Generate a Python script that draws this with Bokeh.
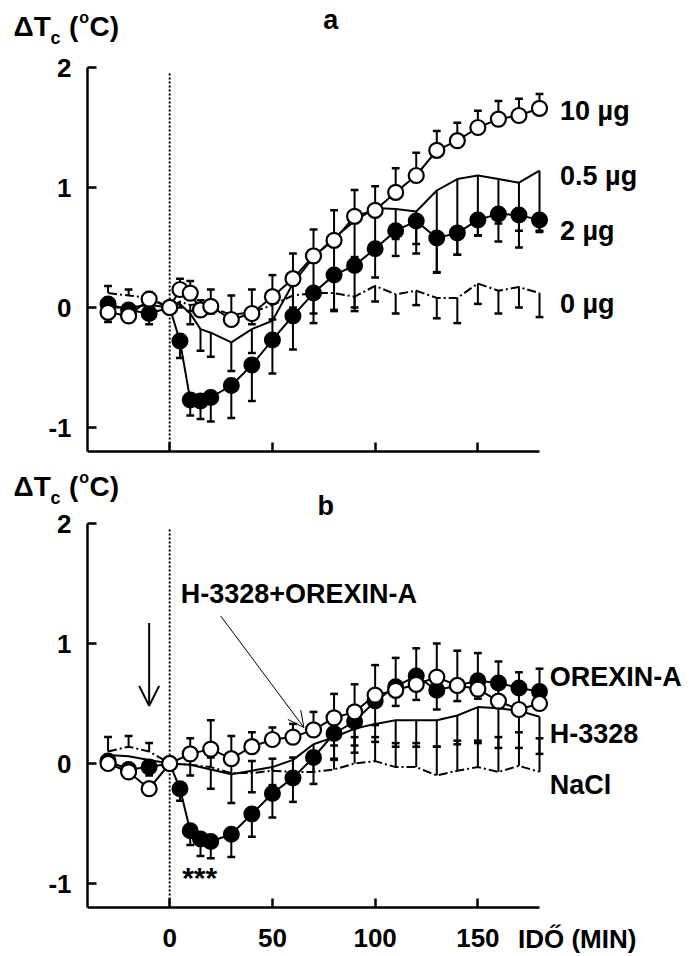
from bokeh.plotting import figure
from bokeh.layouts import column
from bokeh.models import Label, Arrow, OpenHead, FixedTicker, Range1d
from bokeh.embed import file_html
from bokeh.resources import INLINE

FONT = "Liberation Sans"

# ---------------- data ----------------
t_full = [-30, -20, -10, 0, 5, 10, 15, 20, 30, 40, 50, 60, 70, 80, 90, 100,
          110, 120, 130, 140, 150, 160, 170, 180]
t_10 = [-30, -20, -10, 0, 10, 20, 30, 40, 50, 60, 70, 80, 90, 100,
        110, 120, 130, 140, 150, 160, 170, 180]

x_ticks = [0, 50, 100, 150]
x_tick_labels = ["0", "50", "100", "150"]
y_ticks = [-1, 0, 1, 2]
y_tick_labels = ["-1", "0", "1", "2"]

# panel a (t_full)
a_10ug = [-0.04, -0.07, 0.07, 0.0, 0.15, 0.12, -0.02, 0.01, -0.10, -0.05, 0.09, 0.24,
          0.43, 0.56, 0.76, 0.81, 0.96, 1.10, 1.31, 1.39, 1.50, 1.57, 1.60, 1.66]
a_10ug_up = [0.0, 0.0, 0.05, 0.0, 0.09, 0.10, 0.08, 0.14, 0.20, 0.20, 0.18, 0.21,
             0.22, 0.25, 0.22, 0.20, 0.20, 0.19, 0.16, 0.15, 0.14, 0.15, 0.14, 0.12]
a_2ug = [0.03, -0.02, -0.05, 0.0, -0.28, -0.77, -0.78, -0.75, -0.65, -0.48, -0.27, -0.07,
         0.12, 0.27, 0.35, 0.49, 0.64, 0.72, 0.58, 0.62, 0.73, 0.78, 0.77, 0.73]
a_2ug_dn = [0.15, 0.05, 0.09, 0.0, 0.14, 0.13, 0.15, 0.20, 0.27, 0.30, 0.28, 0.28,
            0.25, 0.30, 0.35, 0.24, 0.21, 0.19, 0.29, 0.18, 0.13, 0.08, 0.13, 0.10]
a_05ug = [0.0, 0.0, 0.02, 0.0, 0.03, -0.05, -0.18, -0.21, -0.29, -0.18, -0.11, 0.20,
          0.42, 0.58, 0.72, 0.83, 0.82, 0.80, 0.975, 1.07, 1.10, 1.07, 1.04, 1.14]
a_05ug_dn = [0.0, 0.0, 0.0, 0.0, 0.0, 0.09, 0.18, 0.20, 0.24, 0.20, 0.15, 0.20,
             0.25, 0.30, 0.30, 0.35, 0.25, 0.35, 0.68, 0.63, 0.50, 0.52, 0.54, 0.50]
a_0ug = [0.12, 0.10, 0.08, 0.0, 0.05, 0.02, 0.03, 0.0, -0.06, -0.04, 0.02, 0.10,
         0.12, 0.12, 0.09, 0.18, 0.11, 0.14, 0.08, 0.08, 0.20, 0.14, 0.17, 0.12]
a_0ug_up = [0.06, 0.05, 0.05, 0.0, 0.0, 0.0, 0.0, 0.0, 0.0, 0.0, 0.0, 0.0,
            0.0, 0.0, 0.0, 0.0, 0.0, 0.0, 0.0, 0.0, 0.0, 0.0, 0.0, 0.0]
a_0ug_dn = [0.0, 0.0, 0.0, 0.0, 0.05, 0.05, 0.05, 0.05, 0.08, 0.10, 0.12, 0.15,
            0.17, 0.14, 0.12, 0.13, 0.16, 0.12, 0.17, 0.21, 0.17, 0.19, 0.17, 0.20]

# panel b
b_orx = [0.02, -0.05, -0.03, 0.0, -0.21, -0.56, -0.63, -0.65, -0.59, -0.42, -0.25, -0.12,
         0.05, 0.25, 0.35, 0.52, 0.64, 0.73, 0.61, 0.65, 0.69, 0.67, 0.63, 0.60]   # t_full
b_orx_dn = [0.0, 0.0, 0.07, 0.0, 0.10, 0.12, 0.14, 0.14, 0.19, 0.19, 0.20, 0.20,
            0.22, 0.22, 0.20, 0.20, 0.16, 0.20, 0.16, 0.13, 0.15, 0.15, 0.15, 0.15]
b_hox = [0.0, -0.07, -0.21, 0.0, 0.08, 0.12, 0.04, 0.14, 0.20, 0.22, 0.28, 0.38,
         0.43, 0.57, 0.61, 0.66, 0.72, 0.65, 0.62, 0.52, 0.45, 0.50]            # t_10
b_hox_up = [0.0, 0.0, 0.0, 0.0, 0.13, 0.24, 0.19, 0.12, 0.10, 0.11, 0.15, 0.20,
            0.23, 0.25, 0.27, 0.30, 0.28, 0.29, 0.30, 0.33, 0.31, 0.29]
b_h3328 = [0.07, 0.06, 0.03, 0.0, -0.01, -0.05, -0.09, -0.06, -0.03, 0.03, 0.16, 0.22,
           0.29, 0.33, 0.36, 0.36, 0.36, 0.40, 0.47, 0.46, 0.44, 0.39]           # t_10
b_h3328_dn = [0.0, 0.0, 0.0, 0.0, 0.09, 0.16, 0.24, 0.18, 0.15, 0.15, 0.15, 0.18,
              0.20, 0.15, 0.22, 0.22, 0.22, 0.24, 0.30, 0.33, 0.31, 0.31]
b_nacl = [0.10, 0.14, 0.10, 0.0, -0.01, -0.03, -0.08, -0.08, -0.06, -0.07, -0.07, -0.05,
          0.0, 0.02, -0.03, -0.03, -0.10, -0.06, -0.03, -0.07, -0.02, -0.07]     # t_10
b_nacl_up = [0.12, 0.09, 0.07, 0.0, 0.05, 0.08, 0.10, 0.10, 0.10, 0.12, 0.15, 0.20,
             0.22, 0.20, 0.20, 0.20, 0.24, 0.25, 0.22, 0.29, 0.28, 0.28]

X0, X1 = -40, 180      # axis extent (min)
Y0, Y1 = -1.2, 2.0     # axis extent (deg C)
W = 695


# ---------------- helpers ----------------
def make_fig(h, ytop, ybot, show_xlabels):
    p = figure(width=W, height=h,
               x_range=Range1d(-82.35, 255.93), y_range=Range1d(ybot, ytop),
               output_backend="svg", toolbar_location=None,
               min_border=0, min_border_left=0, min_border_right=0,
               min_border_top=0, min_border_bottom=0)
    p.outline_line_color = None
    p.grid.visible = False
    p.background_fill_color = "white"
    p.border_fill_color = "white"
    p.xaxis.ticker = FixedTicker(ticks=x_ticks)
    p.yaxis.ticker = FixedTicker(ticks=y_ticks)
    p.xaxis.fixed_location = Y0
    p.yaxis.fixed_location = X0
    p.xaxis.bounds = (X0, X1)
    p.yaxis.bounds = (Y0, Y1)
    for ax in (p.xaxis[0], p.yaxis[0]):
        ax.axis_line_width = 2.5
        ax.axis_line_color = "black"
        ax.major_tick_line_width = 2.5
        ax.major_tick_line_color = "black"
        ax.major_tick_in = 9
        ax.major_tick_out = 0
        ax.minor_tick_line_color = None
        ax.major_label_text_font = FONT
        ax.major_label_text_font_style = "bold"
        ax.major_label_text_font_size = "26px"
        ax.major_label_text_color = "black"
    p.yaxis.major_label_standoff = 16
    p.yaxis.major_label_overrides = {t: s for t, s in zip(y_ticks, y_tick_labels)}
    if show_xlabels:
        p.xaxis.major_label_standoff = 21
        p.xaxis.major_label_overrides = {t: s for t, s in zip(x_ticks, x_tick_labels)}
    else:
        p.xaxis.major_label_overrides = {t: "" for t in x_ticks}
        p.xaxis.major_label_standoff = 0
    # dotted injection line at t = 0
    p.segment(x0=[0], y0=[Y0], x1=[0], y1=[1.95], line_color="black",
              line_width=2, line_dash="2 2")
    return p


def err(p, t, v, e, sign, cap=True):
    xs, y0, y1 = [], [], []
    for ti, vi, ei in zip(t, v, e):
        if ei > 0:
            xs.append(ti)
            y0.append(vi)
            y1.append(vi + sign * ei)
    p.segment(x0=xs, y0=y0, x1=xs, y1=y1, line_color="black", line_width=2)
    if cap:
        p.segment(x0=[x - 1.9 for x in xs], x1=[x + 1.9 for x in xs], y0=y1, y1=y1,
                  line_color="black", line_width=2.5)


def lab(p, x, y, text, size="27px", align="left", baseline="middle"):
    p.add_layout(Label(x=x, y=y, text=text, text_font=FONT, text_font_style="bold",
                       text_font_size=size, text_align=align, text_baseline=baseline,
                       text_color="black"))


def ylabel(p, yc, ysub, ysup):
    lab(p, -76.0, yc, "ΔT", size="28px")
    lab(p, -58.0, ysub, "c", size="18px")
    lab(p, -49.0, yc, "(", size="28px")
    lab(p, -44.0, ysup, "o", size="16px")
    lab(p, -39.0, yc, "C)", size="28px")


# ---------------- panel a ----------------
pa = make_fig(465, 2 + 67 / 120, -1.2 - 14 / 120, False)
err(pa, t_full, a_0ug, a_0ug_dn, -1)
err(pa, t_full, a_0ug, a_0ug_up, +1)
err(pa, t_full, a_05ug, a_05ug_dn, -1)
err(pa, t_full, a_2ug, a_2ug_dn, -1)
err(pa, t_full, a_10ug, a_10ug_up, +1)
pa.line(t_full, a_0ug, line_color="black", line_width=2, line_dash="9 3 2 3")
pa.line(t_full, a_05ug, line_color="black", line_width=2)
pa.line(t_full, a_2ug, line_color="black", line_width=2)
pa.line(t_full, a_10ug, line_color="black", line_width=2)
pa.scatter(t_full, a_2ug, size=15, marker="circle", fill_color="black",
           line_color="black", line_width=2)
pa.scatter(t_full, a_10ug, size=15, marker="circle", fill_color="white",
           line_color="black", line_width=2.2)
lab(pa, 190, 1.64, "10 µg")
lab(pa, 190, 1.10, "0.5 µg")
lab(pa, 190, 0.64, "2 µg")
lab(pa, 190, 0.03, "0 µg")
lab(pa, 78.4, 2.40, "a", size="27px", align="center")
ylabel(pa, 2.34, 2.25, 2.42)

# ---------------- panel b ----------------
pb = make_fig(491, 2 + 58 / 120, -1.2 - 49 / 120, True)
err(pb, t_10, b_nacl, b_nacl_up, +1)
err(pb, t_10, b_h3328, b_h3328_dn, -1)
err(pb, t_full, b_orx, b_orx_dn, -1)
err(pb, t_10, b_hox, b_hox_up, +1)
pb.line(t_10, b_nacl, line_color="black", line_width=2, line_dash="9 3 2 3")
pb.line(t_10, b_h3328, line_color="black", line_width=2)
pb.line(t_full, b_orx, line_color="black", line_width=2)
pb.line(t_10, b_hox, line_color="black", line_width=2)
pb.scatter(t_full, b_orx, size=15, marker="circle", fill_color="black",
           line_color="black", line_width=2)
pb.scatter(t_10, b_hox, size=15, marker="circle", fill_color="white",
           line_color="black", line_width=2.2)
lab(pb, 185, 0.72, "OREXIN-A")
lab(pb, 185, 0.25, "H-3328")
lab(pb, 185, -0.18, "NaCl")
lab(pb, 5.4, 1.41, "H-3328+OREXIN-A")
lab(pb, 14.6, -0.95, "***", size="30px", align="center", baseline="alphabetic")
lab(pb, 169.5, -1.46, "IDŐ (MIN)", size="26px")
lab(pb, 76.0, 2.15, "b", size="27px", align="center")
ylabel(pb, 2.31, 2.21, 2.38)

pb.add_layout(Arrow(end=OpenHead(size=20, line_width=2, line_color="black"),
                    x_start=-10, y_start=1.17, x_end=-10, y_end=0.48,
                    line_width=2, line_color="black"))
pb.add_layout(Arrow(end=OpenHead(size=16, line_width=1, line_color="black"),
                    x_start=24.8, y_start=1.23, x_end=65.3, y_end=0.30,
                    line_width=1, line_color="black"))

layout = column(pa, pb, spacing=0)
open("out.html", "w").write(file_html(layout, INLINE))
